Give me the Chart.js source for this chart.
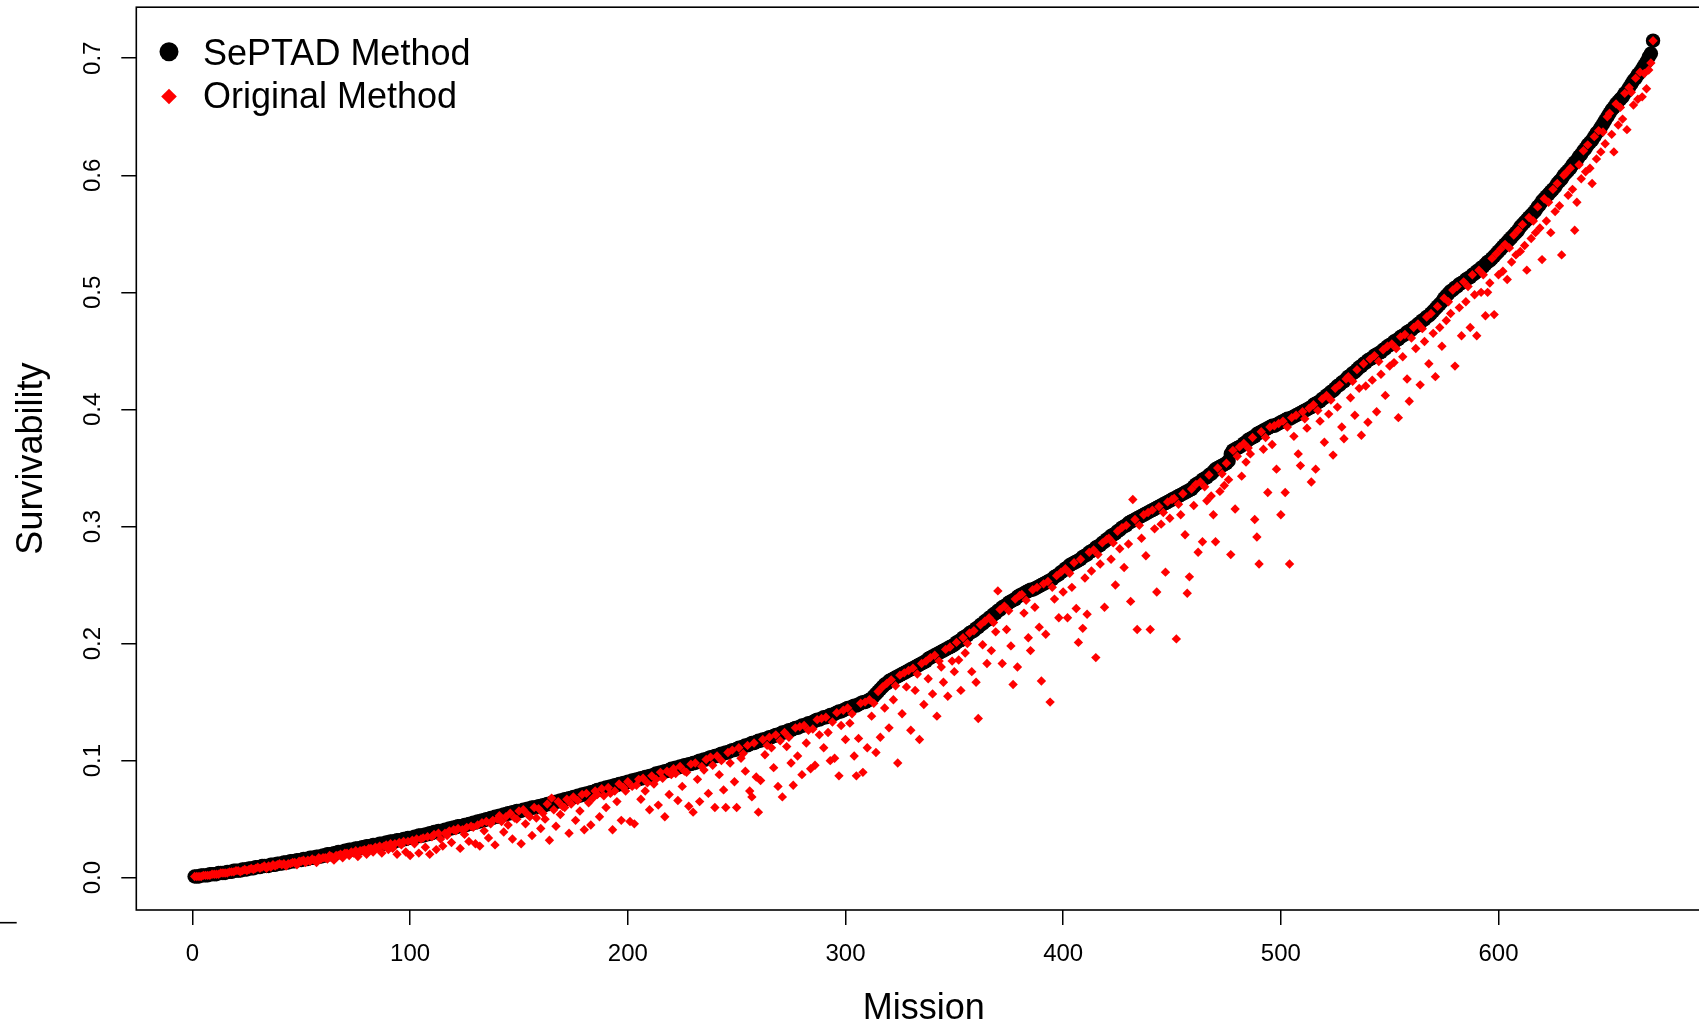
<!DOCTYPE html>
<html>
<head>
<meta charset="utf-8">
<script src="https://cdn.jsdelivr.net/npm/chart.js@4.4.1/dist/chart.umd.min.js"></script>
<style>
html,body{margin:0;padding:0;overflow:hidden;background:#fff;width:1699px;height:1025px}
canvas{display:block}
</style>
</head>
<body>
<canvas id="c" width="1720" height="1040"></canvas>
<script>
// ---- data ----
const seriesNames = ['SePTAD Method', 'Original Method'];
const xTitle = 'Mission';
const yTitle = 'Survivability';
const xTickValues = [0, 100, 200, 300, 400, 500, 600];
const yTickValues = [0, 0.1, 0.2, 0.3, 0.4, 0.5, 0.6, 0.7];
const yTickLabels = ['0.0', '0.1', '0.2', '0.3', '0.4', '0.5', '0.6', '0.7'];

// SePTAD survivability per mission (missions 1..671, sorted ascending)
const septad = [
.001,.001,.001,.002,.002,.002,.002,.003,.003,.003,
.003,.004,.004,.004,.004,.005,.005,.005,.006,.006,
.006,.006,.007,.007,.007,.008,.008,.008,.009,.009,
.009,.010,.010,.010,.010,.011,.011,.011,.012,.012,
.012,.013,.013,.013,.014,.014,.014,.015,.015,.015,
.016,.016,.016,.017,.017,.017,.018,.018,.018,.019,
.019,.020,.020,.020,.021,.021,.022,.022,.022,.023,
.023,.024,.024,.024,.025,.025,.025,.026,.026,.027,
.027,.027,.028,.028,.028,.029,.029,.029,.030,.030,
.031,.031,.031,.032,.032,.032,.033,.033,.034,.034,
.034,.035,.035,.036,.036,.036,.037,.037,.038,.038,
.039,.039,.040,.040,.040,.041,.041,.042,.042,.043,
.043,.044,.044,.044,.045,.045,.046,.046,.047,.047,
.048,.048,.049,.049,.050,.050,.051,.051,.052,.052,
.053,.053,.054,.054,.055,.055,.056,.056,.057,.057,
.057,.058,.058,.059,.059,.060,.060,.060,.061,.061,
.062,.062,.063,.063,.064,.064,.065,.065,.066,.066,
.067,.067,.068,.068,.069,.069,.070,.070,.071,.071,
.072,.072,.073,.073,.074,.075,.075,.076,.076,.077,
.077,.078,.078,.079,.079,.080,.080,.081,.081,.082,
.082,.083,.083,.084,.084,.085,.085,.086,.086,.087,
.087,.088,.089,.089,.090,.090,.091,.091,.092,.093,
.093,.094,.094,.095,.095,.096,.096,.097,.097,.098,
.098,.099,.100,.100,.101,.101,.102,.103,.103,.104,
.104,.105,.106,.106,.107,.107,.108,.109,.109,.110,
.111,.111,.112,.113,.113,.114,.115,.115,.116,.117,
.117,.118,.118,.119,.120,.120,.121,.122,.122,.123,
.124,.124,.125,.126,.126,.127,.128,.128,.129,.130,
.130,.131,.132,.132,.133,.134,.135,.135,.136,.137,
.137,.138,.139,.139,.140,.141,.142,.142,.143,.144,
.145,.145,.146,.147,.147,.148,.149,.150,.150,.151,
.152,.153,.155,.157,.159,.161,.163,.165,.166,.168,
.169,.170,.171,.172,.173,.174,.175,.176,.177,.178,
.179,.180,.181,.182,.183,.184,.185,.187,.188,.189,
.190,.191,.192,.193,.194,.195,.196,.197,.198,.199,
.201,.202,.203,.205,.206,.207,.209,.210,.211,.213,
.214,.216,.217,.219,.220,.222,.223,.225,.226,.228,
.229,.231,.232,.233,.235,.236,.237,.238,.240,.241,
.242,.243,.244,.245,.246,.246,.247,.248,.249,.250,
.251,.252,.253,.254,.255,.257,.258,.259,.261,.262,
.264,.265,.267,.268,.269,.270,.271,.272,.274,.275,
.276,.278,.279,.280,.282,.283,.284,.286,.287,.289,
.290,.292,.293,.294,.296,.297,.299,.300,.301,.303,
.304,.305,.306,.307,.308,.309,.310,.311,.312,.313,
.314,.315,.316,.317,.318,.319,.320,.321,.322,.323,
.324,.325,.326,.327,.328,.329,.330,.331,.332,.334,
.336,.337,.338,.340,.341,.342,.344,.345,.347,.349,
.350,.351,.352,.353,.354,.356,.362,.365,.366,.367,
.368,.369,.371,.372,.374,.375,.376,.377,.379,.380,
.381,.382,.383,.384,.385,.386,.386,.387,.388,.389,
.390,.391,.392,.392,.393,.394,.395,.396,.397,.398,
.399,.400,.401,.402,.404,.405,.406,.407,.409,.410,
.412,.413,.415,.416,.418,.420,.421,.423,.424,.426,
.428,.429,.431,.432,.434,.436,.437,.439,.440,.442,
.443,.444,.446,.447,.448,.449,.451,.452,.454,.455,
.456,.458,.459,.460,.462,.463,.464,.466,.467,.468,
.470,.471,.473,.474,.476,.477,.479,.480,.482,.484,
.486,.488,.490,.492,.495,.497,.499,.501,.502,.504,
.505,.507,.508,.509,.511,.512,.513,.515,.516,.518,
.519,.521,.522,.524,.526,.527,.529,.531,.533,.535,
.537,.539,.541,.543,.545,.547,.549,.551,.553,.556,
.558,.560,.562,.564,.566,.568,.570,.573,.575,.578,
.580,.582,.584,.586,.588,.590,.593,.595,.597,.600,
.602,.604,.606,.609,.611,.613,.616,.618,.621,.623,
.626,.628,.630,.633,.636,.638,.641,.644,.647,.650,
.653,.656,.658,.661,.663,.665,.667,.670,.672,.675,
.678,.681,.683,.686,.688,.691,.694,.697,.701,.704,
.715
];

// Original method survivability per mission (same missions)
const original = [
.001,.001,.001,.001,.002,.002,.002,.002,.003,.003,
.003,.003,.004,.004,.004,.004,.005,.005,.005,.006,
.006,.005,.006,.007,.006,.007,.008,.007,.008,.009,
.008,.009,.010,.008,.010,.009,.011,.010,.011,.012,
.011,.012,.010,.012,.012,.013,.013,.011,.014,.014,
.015,.013,.015,.014,.016,.015,.013,.017,.016,.017,
.017,.016,.019,.018,.015,.019,.019,.020,.017,.021,
.021,.019,.022,.021,.023,.018,.023,.023,.024,.020,
.025,.025,.022,.026,.025,.027,.021,.027,.028,.024,
.029,.025,.029,.020,.030,.028,.031,.022,.031,.019,
.032,.029,.033,.021,.033,.034,.026,.035,.020,.035,
.037,.024,.038,.033,.027,.038,.036,.040,.030,.041,
.040,.042,.025,.041,.037,.043,.031,.044,.043,.029,
.045,.027,.047,.040,.048,.034,.046,.049,.028,.050,
.053,.048,.039,.052,.045,.055,.033,.051,.050,.057,
.029,.058,.046,.054,.052,.036,.060,.051,.059,.042,
.055,.050,.063,.032,.068,.058,.044,.065,.054,.061,
.060,.067,.038,.063,.069,.049,.066,.057,.071,.041,
.072,.064,.045,.068,.074,.071,.052,.076,.070,.060,
.077,.072,.041,.074,.065,.080,.049,.077,.074,.082,
.048,.078,.046,.079,.084,.067,.085,.074,.081,.058,
.087,.080,.084,.062,.090,.085,.052,.091,.071,.088,
.093,.089,.066,.095,.078,.091,.090,.061,.097,.056,
.098,.084,.065,.095,.092,.101,.072,.103,.096,.060,
.104,.088,.100,.075,.060,.107,.098,.109,.082,.060,
.111,.102,.106,.091,.113,.074,.069,.115,.086,.056,
.083,.118,.105,.113,.120,.111,.094,.122,.078,.117,
.069,.124,.112,.120,.098,.079,.128,.104,.129,.088,
.130,.115,.126,.093,.127,.096,.135,.122,.136,.111,
.137,.124,.100,.133,.102,.141,.087,.130,.143,.118,
.145,.132,.140,.104,.087,.119,.149,.090,.150,.111,
.152,.138,.149,.107,.159,.120,.163,.145,.166,.128,
.169,.152,.164,.098,.173,.140,.175,.163,.177,.126,
.179,.160,.174,.118,.183,.148,.185,.170,.188,.157,
.190,.138,.185,.180,.167,.195,.155,.197,.185,.176,
.201,.186,.160,.205,.192,.200,.209,.176,.211,.167,
.136,.216,.199,.219,.183,.222,.194,.218,.210,.245,
.229,.183,.232,.212,.228,.198,.165,.238,.180,.241,
.242,.226,.237,.205,.194,.246,.231,.248,.214,.168,
.251,.208,.253,.150,.248,.238,.258,.222,.261,.244,
.264,.222,.260,.248,.269,.230,.201,.272,.213,.256,
.225,.278,.262,.280,.188,.276,.268,.286,.231,.289,
.290,.272,.286,.250,.296,.281,.299,.265,.301,.285,
.236,.323,.306,.212,.301,.290,.310,.275,.312,.212,
.314,.298,.244,.317,.302,.312,.261,.321,.307,.323,
.324,.204,.319,.310,.328,.293,.243,.257,.332,.318,
.336,.278,.338,.287,.334,.322,.344,.326,.310,.287,
.350,.330,.345,.335,.354,.340,.276,.365,.315,.360,
.368,.343,.371,.355,.367,.362,.376,.306,.291,.268,
.381,.366,.376,.329,.385,.370,.386,.349,.388,.310,
.390,.329,.385,.268,.393,.377,.395,.362,.352,.398,
.392,.384,.401,.338,.404,.349,.399,.390,.409,.372,
.412,.396,.408,.361,.418,.402,.421,.385,.375,.426,
.428,.410,.424,.395,.434,.418,.378,.439,.420,.389,
.443,.425,.446,.398,.441,.430,.451,.412,.454,.437,
.456,.440,.452,.393,.462,.445,.464,.426,.407,.461,
.470,.452,.473,.421,.469,.458,.479,.439,.482,.465,
.428,.488,.470,.454,.495,.476,.492,.482,.502,.437,
.505,.487,.463,.509,.492,.505,.470,.515,.498,.463,
.519,.500,.515,.480,.500,.508,.529,.481,.533,.515,
.537,.518,.541,.511,.538,.526,.549,.532,.553,.535,
.558,.540,.519,.564,.546,.561,.551,.573,.555,.528,
.580,.561,.577,.551,.588,.569,.593,.574,.532,.600,
.602,.583,.606,.588,.553,.577,.609,.597,.621,.603,
.626,.606,.593,.633,.614,.638,.620,.637,.627,.650,
.653,.635,.620,.661,.643,.658,.648,.670,.639,.675,
.671,.660,.683,.665,.688,.667,.687,.674,.690,.696,
.715
];

const missions = septad.map((_, i) => i + 1);

// ---- helpers / plugins ----
const FONT = '"Liberation Sans", Arial, Helvetica, sans-serif';

const framePlugin = {
  id: 'rframe',
  afterDraw(chart) {
    const {ctx, chartArea: a} = chart;
    ctx.save();
    ctx.strokeStyle = '#000';
    ctx.lineWidth = 1.6;
    ctx.strokeRect(a.left, a.top, a.right - a.left, a.bottom - a.top);
    // stray fragment at the left edge of the reference image
    ctx.beginPath();
    ctx.moveTo(0, 922.7);
    ctx.lineTo(16.7, 922.7);
    ctx.stroke();
    ctx.restore();
  }
};

const legendPlugin = {
  id: 'rlegend',
  afterDatasetsDraw(chart) {
    const {ctx} = chart;
    const ds = chart.data.datasets;
    ctx.save();
    ctx.fillStyle = ds[0].pointBackgroundColor;
    ctx.beginPath();
    ctx.arc(169, 51.7, 9.5, 0, Math.PI * 2);
    ctx.fill();
    ctx.fillStyle = ds[1].pointBackgroundColor;
    ctx.beginPath();
    const cx = 169, cy = 96.5, r = 7.8;
    ctx.moveTo(cx - r, cy); ctx.lineTo(cx, cy - r); ctx.lineTo(cx + r, cy); ctx.lineTo(cx, cy + r);
    ctx.closePath();
    ctx.fill();
    ctx.fillStyle = '#000';
    ctx.font = '36px ' + FONT;
    ctx.textAlign = 'left';
    ctx.textBaseline = 'alphabetic';
    ctx.fillText(ds[0].label, 203, 64.5);
    ctx.fillText(ds[1].label, 203, 107.5);
    ctx.restore();
  }
};

new Chart(document.getElementById('c').getContext('2d'), {
  type: 'scatter',
  data: {
    datasets: [
      {
        label: seriesNames[0],
        data: missions.map((m, i) => ({x: m, y: septad[i]})),
        pointStyle: 'circle',
        pointRadius: 7.2,
        pointBorderWidth: 0,
        pointBackgroundColor: '#000000',
        pointBorderColor: '#000000',
        order: 2
      },
      {
        label: seriesNames[1],
        data: missions.map((m, i) => ({x: m, y: original[i]})),
        pointStyle: 'rectRot',
        pointRadius: 4.7,
        pointBorderWidth: 0,
        pointBackgroundColor: '#ff0000',
        pointBorderColor: '#ff0000',
        order: 1
      }
    ]
  },
  options: {
    responsive: false,
    animation: false,
    events: [],
    layout: {padding: {left: 0, top: 7.2, right: 8.6, bottom: 0}},
    plugins: {legend: {display: false}, tooltip: {enabled: false}},
    scales: {
      x: {
        type: 'linear',
        min: -25.8,
        max: 697.8,
        afterBuildTicks: s => { s.ticks = xTickValues.map(v => ({value: v})); },
        afterFit: s => { s.height = 130; s.paddingLeft = 0; s.paddingRight = 0; },
        grid: {drawOnChartArea: false, drawTicks: true, tickLength: 15, color: '#000', lineWidth: 1.5},
        border: {display: false},
        ticks: {
          padding: 15, color: '#000', autoSkip: false, maxRotation: 0,
          font: {family: FONT, size: 24},
          callback: v => String(v)
        },
        title: {display: true, text: xTitle, color: '#000', font: {family: FONT, size: 36}, padding: {top: 0, bottom: 9.2}}
      },
      y: {
        type: 'linear',
        min: -0.0276,
        max: 0.7436,
        afterBuildTicks: s => { s.ticks = yTickValues.map(v => ({value: v})); },
        afterFit: s => { s.width = 136.3; s.paddingTop = 0; s.paddingBottom = 0; },
        grid: {drawOnChartArea: false, drawTicks: true, tickLength: 15, color: '#000', lineWidth: 1.5},
        border: {display: false},
        ticks: {
          padding: 10.9, color: '#000', autoSkip: false, minRotation: 90, maxRotation: 90,
          crossAlign: 'center',
          font: {family: FONT, size: 24},
          callback: (v) => yTickLabels[yTickValues.indexOf(v)] ?? v.toFixed(1)
        },
        title: {display: true, text: yTitle, color: '#000', font: {family: FONT, size: 36}, padding: {top: 10.9, bottom: 0}}
      }
    }
  },
  plugins: [framePlugin, legendPlugin]
});
</script>
</body>
</html>
